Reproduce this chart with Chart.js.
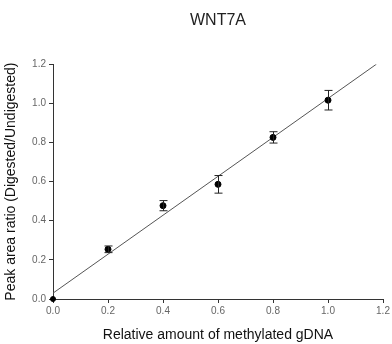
<!DOCTYPE html>
<html>
<head>
<meta charset="utf-8">
<script src="https://cdn.jsdelivr.net/npm/chart.js@4.4.0/dist/chart.umd.min.js"></script>
<style>
  html, body { margin: 0; padding: 0; background: #fff; }
  #wrap { width: 392px; height: 344px; }
</style>
</head>
<body>
<div id="wrap"><canvas id="c"></canvas></div>
<script>
// relative amount of methylated gDNA vs peak area ratio
const amounts = [0.0, 0.2, 0.4, 0.6, 0.8, 1.0];
const ratios = [0.0, 0.254, 0.477, 0.586, 0.826, 1.016];
const errors = [0.0, 0.017, 0.026, 0.045, 0.029, 0.05];

// regression line end points
const fitX = [0.0, 1.176];
const fitY = [0.03, 1.2];

const tickValues = [0, 0.2, 0.4, 0.6, 0.8, 1.0, 1.2];

const FONT = "'Liberation Sans', Arial, sans-serif";

const errorBars = {
  id: "errorBars",
  afterDatasetsDraw(chart) {
    const ctx = chart.ctx;
    const xs = chart.scales.x;
    const ys = chart.scales.y;
    ctx.save();
    ctx.strokeStyle = "#222";
    ctx.lineWidth = 1;
    amounts.forEach((a, i) => {
      if (!errors[i]) return;
      let px = Math.round(xs.getPixelForValue(a)) + 0.5;
      let top = ys.getPixelForValue(ratios[i] + errors[i]);
      let bot = ys.getPixelForValue(ratios[i] - errors[i]);
      ctx.beginPath();
      ctx.moveTo(px, top);
      ctx.lineTo(px, bot);
      ctx.moveTo(px - 4, top);
      ctx.lineTo(px + 4, top);
      ctx.moveTo(px - 4, bot);
      ctx.lineTo(px + 4, bot);
      ctx.stroke();
    });
    ctx.restore();
  },
};

new Chart(document.getElementById("c"), {
  type: "scatter",
  data: {
    datasets: [
      {
        data: amounts.map((a, i) => ({ x: a, y: ratios[i] })),
        backgroundColor: "#000",
        borderColor: "#000",
        pointRadius: amounts.map((a) => (a === 0 ? 2.5 : 3)),
        clip: false,
      },
      {
        type: "line",
        data: fitX.map((a, i) => ({ x: a, y: fitY[i] })),
        borderColor: "#555",
        borderWidth: 1,
        pointRadius: 0,
        fill: false,
      },
    ],
  },
  options: {
    responsive: true,
    maintainAspectRatio: false,
    animation: false,
    events: [],
    layout: { padding: { left: 0, right: 9, top: 0, bottom: 0 } },
    plugins: {
      legend: { display: false },
      tooltip: { enabled: false },
      title: {
        display: true,
        text: "WNT7A",
        fullSize: false,
        color: "#222",
        font: { family: FONT, size: 16, weight: "normal" },
        padding: { top: 11, bottom: 34 },
      },
    },
    scales: {
      x: {
        type: "linear",
        min: 0,
        max: 1.2,
        afterBuildTicks: (s) => { s.ticks = tickValues.map((v) => ({ value: v })); },
        afterFit: (s) => { s.height = 45; },
        grid: { drawOnChartArea: false, drawTicks: true, tickLength: 4, color: "#333" },
        border: { display: true, color: "#333" },
        ticks: {
          color: "#666",
          font: { family: FONT, size: 10 },
          padding: 2,
          maxRotation: 0,
          callback: (v) => v.toFixed(1),
        },
        title: {
          display: true,
          text: "Relative amount of methylated gDNA",
          color: "#111",
          font: { family: FONT, size: 14 },
          padding: { top: 10, bottom: 0 },
        },
      },
      y: {
        type: "linear",
        min: 0,
        max: 1.2,
        afterBuildTicks: (s) => { s.ticks = tickValues.map((v) => ({ value: v })); },
        afterFit: (s) => { s.width = 53; },
        grid: { drawOnChartArea: false, drawTicks: true, tickLength: 4, color: "#333" },
        border: { display: true, color: "#333" },
        ticks: {
          color: "#666",
          font: { family: FONT, size: 10 },
          padding: 3,
          callback: (v) => v.toFixed(1),
        },
        title: {
          display: true,
          text: "Peak area ratio (Digested/Undigested)",
          color: "#111",
          font: { family: FONT, size: 14 },
          padding: { top: 3, bottom: 2 },
        },
      },
    },
  },
  plugins: [errorBars],
});
</script>
</body>
</html>
